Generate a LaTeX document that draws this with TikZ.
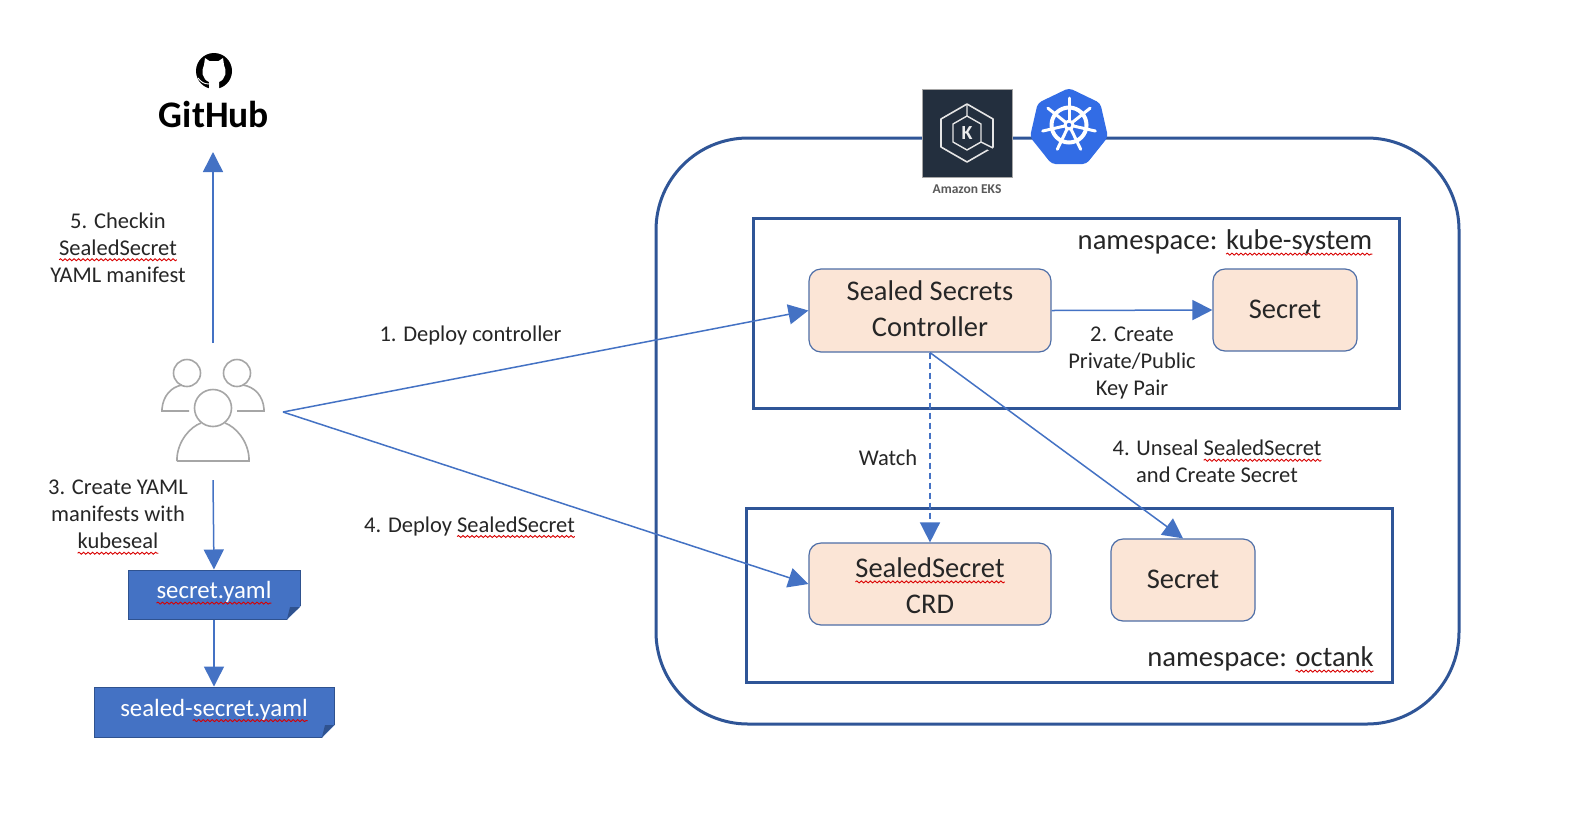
\documentclass[tikz,border=0pt]{standalone}
\usepackage{fontspec}
\setmainfont{Carlito}
\usetikzlibrary{arrows.meta,decorations.pathmorphing,shapes.geometric}
\definecolor{frameblue}{HTML}{2F5597}
\definecolor{arrowblue}{HTML}{4472C4}
\definecolor{docedge}{HTML}{2F528F}
\definecolor{boxfill}{HTML}{FBE5D6}
\definecolor{eksdark}{HTML}{232F3E}
\definecolor{kubeblue}{HTML}{326CE5}
\definecolor{usergray}{HTML}{A6A6A6}
\definecolor{labeltext}{HTML}{262626}
\newsavebox{\sqbox}
\newcommand{\sq}[1]{\sbox{\sqbox}{#1}\leavevmode\rlap{\tikz[overlay,baseline=0pt]\draw[sharp corners,red!85!black,line width=.9pt,decorate,decoration={snake,amplitude=1pt,segment length=4.5pt}] (0pt,-4.5pt)--(\wd\sqbox,-4.5pt);}\usebox{\sqbox}}
\tikzset{
  frame/.style={draw=frameblue,line width=3pt,fill=none},
  compbox/.style={draw=frameblue!85,line width=1.2pt,fill=boxfill,rounded corners=12pt,align=center,font=\fontsize{28.5}{36}\selectfont,text=labeltext,inner sep=0pt},
  docbox/.style={draw=docedge,line width=1pt,fill=arrowblue,font=\fontsize{24.8}{28}\selectfont,text=white,inner sep=0pt},
  lbl/.style={align=center,font=\fontsize{22.5}{27}\selectfont,text=labeltext,inner sep=0pt},
  nslbl/.style={font=\fontsize{28.6}{32}\selectfont,text=labeltext,inner sep=0pt},
  flow/.style={draw=arrowblue,line width=1.5pt,-{Triangle[length=20pt,width=20pt]}},
  person/.style={draw=usergray,line width=1.6pt,fill=none},
}
\begin{document}
\begin{tikzpicture}[x=1pt,y=-1pt]
\useasboundingbox (0,0) rectangle (1594,812);
\fill[white] (0,0) rectangle (1594,812);

% cluster frames
\node[frame,rounded corners=92pt,minimum width=803pt,minimum height=586pt,inner sep=0pt] (cluster) at (1057.5,431) {};
\node[frame,minimum width=646pt,minimum height=190pt,inner sep=0pt] (nskube) at (1076,313) {};
\node[frame,minimum width=646pt,minimum height=174pt,inner sep=0pt] (nsoct) at (1069,595) {};

% components
\node[compbox,minimum width=242pt,minimum height=83pt] (ctrl) at (930,310.5) {Sealed Secrets\\Controller\rule[-4pt]{0pt}{0pt}};
\node[compbox,minimum width=144pt,minimum height=82pt] (sec1) at (1285,310) {Secret\rule[-2pt]{0pt}{0pt}};
\node[compbox,minimum width=242pt,minimum height=82pt] (crd) at (930,584) {\rule{0pt}{23pt}\sq{SealedSecret}\\CRD};
\node[compbox,minimum width=144pt,minimum height=82pt] (sec2) at (1183,580) {Secret\rule[-2pt]{0pt}{0pt}};

% documents
\node[docbox,minimum width=172pt,minimum height=49pt] (yaml) at (214,594.5) {\sq{secret.yaml}\rule[-9pt]{0pt}{0pt}};
\node[docbox,minimum width=240pt,minimum height=50pt] (sealed) at (214,712) {sealed-\sq{secret.yaml}\rule[-9pt]{0pt}{0pt}};
\fill[white] (300.8,606) -- (300.8,620) -- (287,620) -- cycle;
\fill[docedge] (287,619) -- (290,607) -- (300,607) -- cycle;
\fill[white] (334.8,725) -- (334.8,738) -- (322,738) -- cycle;
\fill[docedge] (322,737) -- (325,725) -- (334,725) -- cycle;

% people icon
\draw[person] (187,373) circle (13.5);
\draw[person] (237,373) circle (13.5);
\draw[person] (213,408) circle (18.5);
\draw[person] (189,411) -- (162,411) -- (162,409) .. controls (163,396) and (171,387) .. (182,385);
\draw[person] (237,411) -- (264,411) -- (264,409) .. controls (263,396) and (255,387) .. (243,385);
\draw[person] (177,461) -- (249,461) -- (249,458) .. controls (248,441) and (236,427) .. (225,423);
\draw[person] (177,461) -- (177,458) .. controls (178,441) and (190,427) .. (201,423);
\coordinate (usertop) at (213,343);
\coordinate (userbot) at (213,480);
\coordinate (userside) at (283,412);

% GitHub mark
\fill[black] (214,71) circle (18);
\fill[white] (205,58) -- (209.5,61) -- (218.5,61) -- (223,58) -- (224,65) .. controls (227,71) and (226,79) .. (219,82) -- (219,90) -- (209,90) -- (209,82) .. controls (202,79) and (201,71) .. (204,65) -- cycle;
\draw[white,line width=.9pt] (198,78) .. controls (201,82) and (204,84) .. (209,84);
\node[inner sep=0pt,font=\bfseries\fontsize{37.5}{40}\selectfont,text=black] (github) at (214,114) {GitHub};
\coordinate (gittip) at (213,152);

% EKS tile
\node[fill=eksdark,draw=gray!70,line width=.8pt,minimum width=90pt,minimum height=88pt,inner sep=0pt] (eks) at (967,133) {};
\draw[white!80!gray,line width=1.6pt,line join=round] (967,104) -- (993,119) -- (993,147) -- (967,162) -- (941,147) -- (941,119) -- cycle;
\draw[white!80!gray,line width=1.4pt,line join=round] (967,116) -- (981,124) -- (981,142) -- (967,150) -- (953,142) -- (953,124) -- cycle;
\draw[eksdark,line width=4pt] (983,145) -- (995,151);
\draw[white!80!gray,line width=1.4pt] (967,104) -- (967,116) (981,142) -- (993,148);
\node[inner sep=0pt,text=white!85!gray,font=\bfseries\fontsize{20}{20}\selectfont] (ekk) at (967,133) {K};
\node[inner sep=0pt,text=gray!70!black,font=\bfseries\fontsize{13.5}{14}\selectfont] (ekslabel) at (967,189) {Amazon EKS};

% Kubernetes mark
\node[regular polygon,regular polygon sides=7,fill=kubeblue,minimum size=80pt,inner sep=0pt,rounded corners=4pt] (k8s) at (1069,128) {};
\begin{scope}[shift={(1069,125)}]
\draw[white,line width=4pt] (0,0) circle (17.5);
\fill[white] (0,0) circle (5.5);
\fill[kubeblue] (0,0) circle (2.2);
\foreach \a in {-90,-38.6,12.9,64.3,115.7,167.1,218.6}{
  \draw[white,line width=3pt,line cap=round] (0,0) ++(\a:4) -- ++(\a:23);
}
\end{scope}

% connectors
\draw[flow] (usertop) -- (gittip);
\draw[flow] (userbot) -- (yaml.north);
\draw[flow] (yaml.south) -- (sealed.north);
\draw[flow] (userside) -- (ctrl.west);
\draw[flow] (userside) -- (crd.west);
\draw[flow] (ctrl.east) -- (sec1.west);
\draw[flow,dash pattern=on 6pt off 4pt] (ctrl.south) -- (crd.north);
\draw[flow] (ctrl.south) -- (sec2.north);

% labels
\node[lbl] (l5) at (118,247.5) {5. Checkin\\\sq{SealedSecret}\\YAML manifest};
\node[lbl] (l1) at (470.5,335) {1. Deploy controller};
\node[lbl] (l3) at (118,514.5) {3. Create YAML\\manifests with\\\sq{kubeseal}};
\node[lbl] (l4a) at (469.5,526) {4. Deploy \sq{SealedSecret}};
\node[lbl] (l2) at (1132,363) {2. Create\\Private/Public\\Key Pair};
\node[lbl] (lw) at (888,458) {Watch};
\node[lbl] (l4b) at (1217,461.5) {4. Unseal \sq{SealedSecret}\\and Create Secret};
\node[nslbl] (ns1) at (1225,242) {namespace: \sq{kube-system}};
\node[nslbl] (ns2) at (1260.5,659) {namespace: \sq{octank}};
\end{tikzpicture}
\end{document}
